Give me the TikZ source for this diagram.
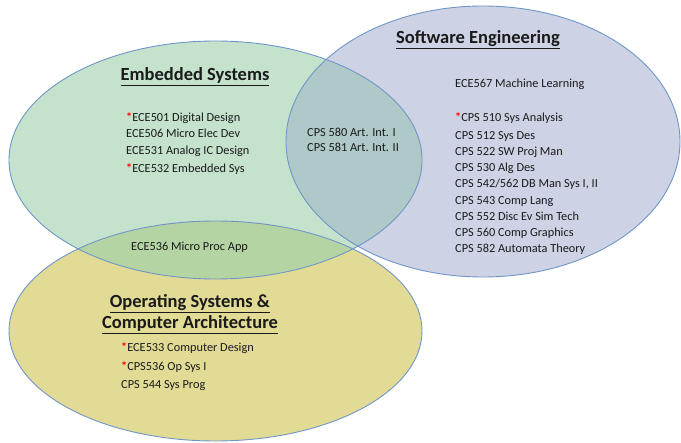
\documentclass[tikz,border=0pt]{standalone}
\usepackage{fontspec}
\setmainfont{Carlito}
\definecolor{gfill}{HTML}{C4E2CC}
\definecolor{bfill}{HTML}{CDD3E4}
\definecolor{yfill}{HTML}{E1DB96}
\definecolor{gbfill}{HTML}{AFC9C9}
\definecolor{gyfill}{HTML}{B5D4A3}
\definecolor{byfill}{HTML}{C8CFB8}
\definecolor{edge}{HTML}{7096C8}
\definecolor{ink}{HTML}{1A1A1A}
\newcommand{\redstar}{{\color{red}\bfseries*}}
\tikzset{
  txt/.style={inner sep=0pt, anchor=base west, font=\fontsize{12.3}{14}\selectfont, text=ink},
  ttl/.style={inner sep=0pt, anchor=base, font=\fontsize{18.5}{22}\selectfont\bfseries, text=ink},
  outline/.style={draw=edge, line width=0.9pt}
}
\begin{document}
\begin{tikzpicture}[x=1pt,y=-1pt]
\useasboundingbox (0,0) rectangle (681,443);
\def\Gpath{(215.5,160) ellipse [x radius=206.5pt, y radius=119pt]}
\def\Bpath{(483,141.5) ellipse [x radius=197pt, y radius=135.5pt]}
\def\Ypath{(215.5,331) ellipse [x radius=206.5pt, y radius=110pt]}
\fill[gfill] \Gpath;
\fill[bfill] \Bpath;
\fill[yfill] \Ypath;
\begin{scope}\clip \Gpath; \fill[gbfill] \Bpath; \end{scope}
\begin{scope}\clip \Gpath; \fill[gyfill] \Ypath; \end{scope}
\begin{scope}\clip \Bpath; \fill[byfill] \Ypath; \end{scope}
\draw[outline] \Gpath;
\draw[outline] \Bpath;
\draw[outline] \Ypath;
% titles
\node[ttl] (tES) at (195,81) {\underline{Embedded Systems}};
\node[ttl] (tSE) at (478,44) {\underline{Software Engineering}};
\node[ttl] (tOS1) at (190,308) {\underline{Operating Systems \&}};
\node[ttl] (tOS2) at (190,329) {\underline{Computer Architecture}};
% embedded systems
\node[txt] (es1) at (126,122) {\redstar ECE501 Digital Design};
\node[txt] (es2) at (126,138) {ECE506 Micro Elec Dev};
\node[txt] (es3) at (126,155) {ECE531 Analog IC Design};
\node[txt] (es4) at (126,173) {\redstar ECE532 Embedded Sys};
% intersection ES/SE
\node[txt] (ai1) at (307,137) {CPS 580 Art. Int. I};
\node[txt] (ai2) at (307,152) {CPS 581 Art. Int. II};
% software engineering
\node[txt] (se0) at (455,88) {ECE567 Machine Learning};
\node[txt] (se1) at (455,122) {\redstar CPS 510 Sys Analysis};
\node[txt] (se2) at (455,140) {CPS 512 Sys Des};
\node[txt] (se3) at (455,156) {CPS 522 SW Proj Man};
\node[txt] (se4) at (455,172) {CPS 530 Alg Des};
\node[txt] (se5) at (455,188) {CPS 542/562 DB Man Sys I, II};
\node[txt] (se6) at (455,205) {CPS 543 Comp Lang};
\node[txt] (se7) at (455,221) {CPS 552 Disc Ev Sim Tech};
\node[txt] (se8) at (455,237) {CPS 560 Comp Graphics};
\node[txt] (se9) at (455,253) {CPS 582 Automata Theory};
% intersection ES/OS
\node[txt] (mp) at (131,251) {ECE536 Micro Proc App};
% operating systems
\node[txt] (os1) at (121,352) {\redstar ECE533 Computer Design};
\node[txt] (os2) at (121,371) {\redstar CPS536 Op Sys I};
\node[txt] (os3) at (121,389) {CPS 544 Sys Prog};
\end{tikzpicture}
\end{document}
